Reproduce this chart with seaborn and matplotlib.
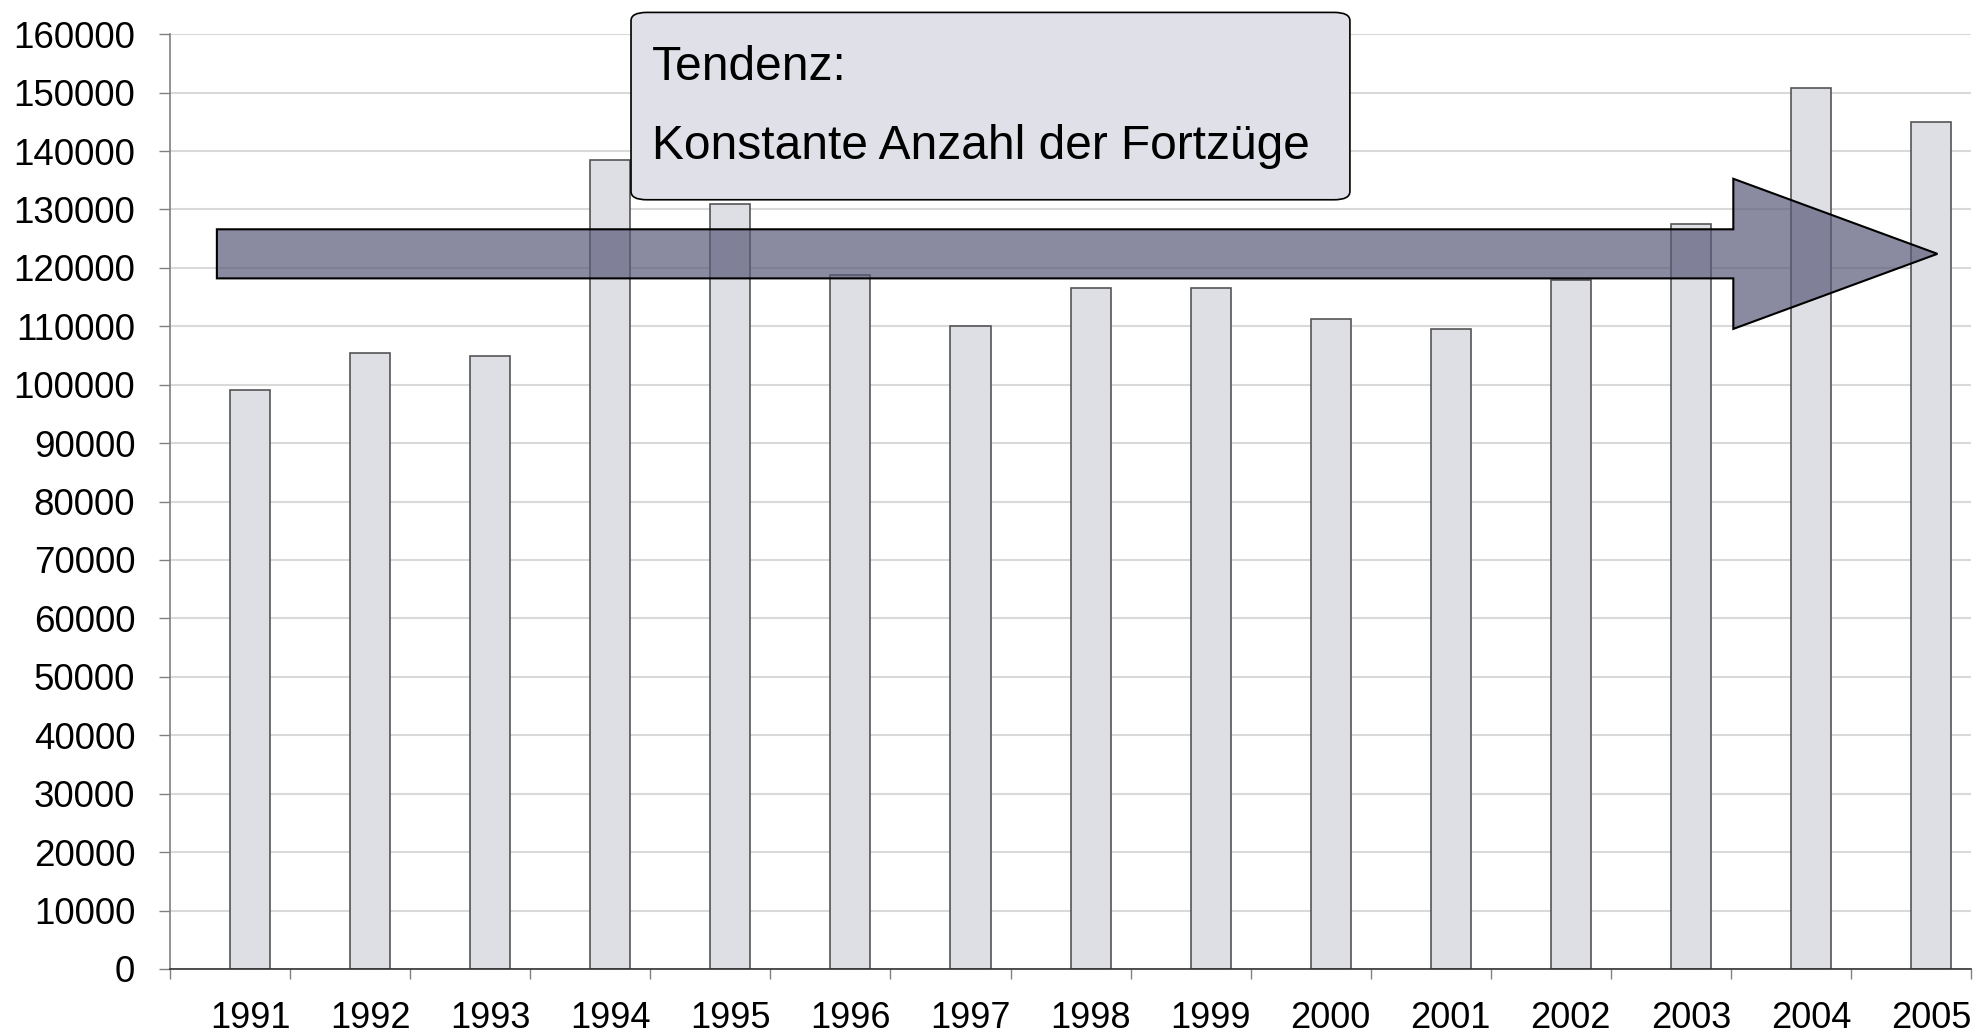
import numpy as np
import pandas as pd
import seaborn as sns
from matplotlib import pyplot as plt
from matplotlib.patches import FancyArrow, FancyBboxPatch

# Fortzüge pro Jahr
jahre = ['1991', '1992', '1993', '1994', '1995', '1996', '1997', '1998',
         '1999', '2000', '2001', '2002', '2003', '2004', '2005']
fortzuege = [99100, 105400, 104900, 138400, 130900, 118700, 110000, 116500,
             116500, 111300, 109600, 117900, 127500, 150800, 145000]
y_ticks = list(range(0, 160001, 10000))
box_lines = ['Tendenz:', 'Konstante Anzahl der Fortzüge']

df = pd.DataFrame({'Jahr': jahre, 'Fortzuege': fortzuege, 'Reihe': 'Fortzüge'})

sns.set_style('white')
plt.rcParams['font.family'] = ['Liberation Sans', 'DejaVu Sans']
plt.rcParams['text.color'] = 'black'
plt.rcParams['xtick.labelcolor'] = 'black'
plt.rcParams['ytick.labelcolor'] = 'black'

fig = plt.figure(figsize=(19.75, 10.35), dpi=100)
ax = fig.add_axes([0.0861, 0.0638, 0.9119, 0.9032])

sns.barplot(data=df, x='Jahr', y='Fortzuege', hue='Reihe',
            hue_order=['leer', 'Fortzüge'], palette={'leer': 'white', 'Fortzüge': '#dddde6'},
            width=0.667, dodge=True, errorbar=None, legend=False,
            edgecolor='#555555', linewidth=1.2, ax=ax)

ax.set_xlim(-0.5, len(jahre) - 0.5)
ax.set_ylim(0, 160000)
ax.set_axisbelow(True)
ax.yaxis.grid(True, color='#d9d9d9', linewidth=1.5)
ax.set_yticks(y_ticks)
ax.set_yticklabels([str(v) for v in y_ticks])
ax.tick_params(axis='y', left=True, length=8, width=1, color='#808080',
               pad=17, labelsize=26.5, labelcolor='black')

# labels under the bars, tick marks between categories
pos = np.arange(len(jahre))
ax.set_xticks(pos + 0.1667)
ax.set_xticklabels(jahre)
ax.set_xticks(np.arange(-0.5, len(jahre)), minor=True)
ax.tick_params(axis='x', which='major', length=0, pad=23, labelsize=26, labelcolor='black')
ax.tick_params(axis='x', which='minor', bottom=True, length=7, width=1, color='#808080')
ax.set_xlabel('')
ax.set_ylabel('')

for s in ['top', 'right']:
    ax.spines[s].set_visible(False)
ax.spines['left'].set_color('#808080')
ax.spines['left'].set_linewidth(1.2)
ax.spines['bottom'].set_color('#333333')
ax.spines['bottom'].set_linewidth(1.2)

# trend arrow
arrow = FancyArrow(-0.11, 122400, 14.33, 0, width=8400, head_width=25700,
                   head_length=1.7, length_includes_head=True,
                   facecolor='#595978', alpha=0.7, edgecolor='none', zorder=5)
ax.add_patch(arrow)
arrow_edge = FancyArrow(-0.11, 122400, 14.33, 0, width=8400, head_width=25700,
                        head_length=1.7, length_includes_head=True,
                        fill=False, edgecolor='black', linewidth=1.5, zorder=6)
ax.add_patch(arrow_edge)

# text box
box = FancyBboxPatch((0.3195, 0.807), 0.364, 0.181,
                     boxstyle='round,pad=0,rounding_size=0.008',
                     transform=fig.transFigure, facecolor='#e0e1e8',
                     edgecolor='black', linewidth=1.2, zorder=10)
fig.patches.append(box)
fig.text(0.330, 0.935, box_lines[0], fontsize=34.5, va='center', ha='left', zorder=11)
fig.text(0.330, 0.858, box_lines[1], fontsize=34.5, va='center', ha='left', zorder=11)

plt.savefig('out.png', dpi=100)
